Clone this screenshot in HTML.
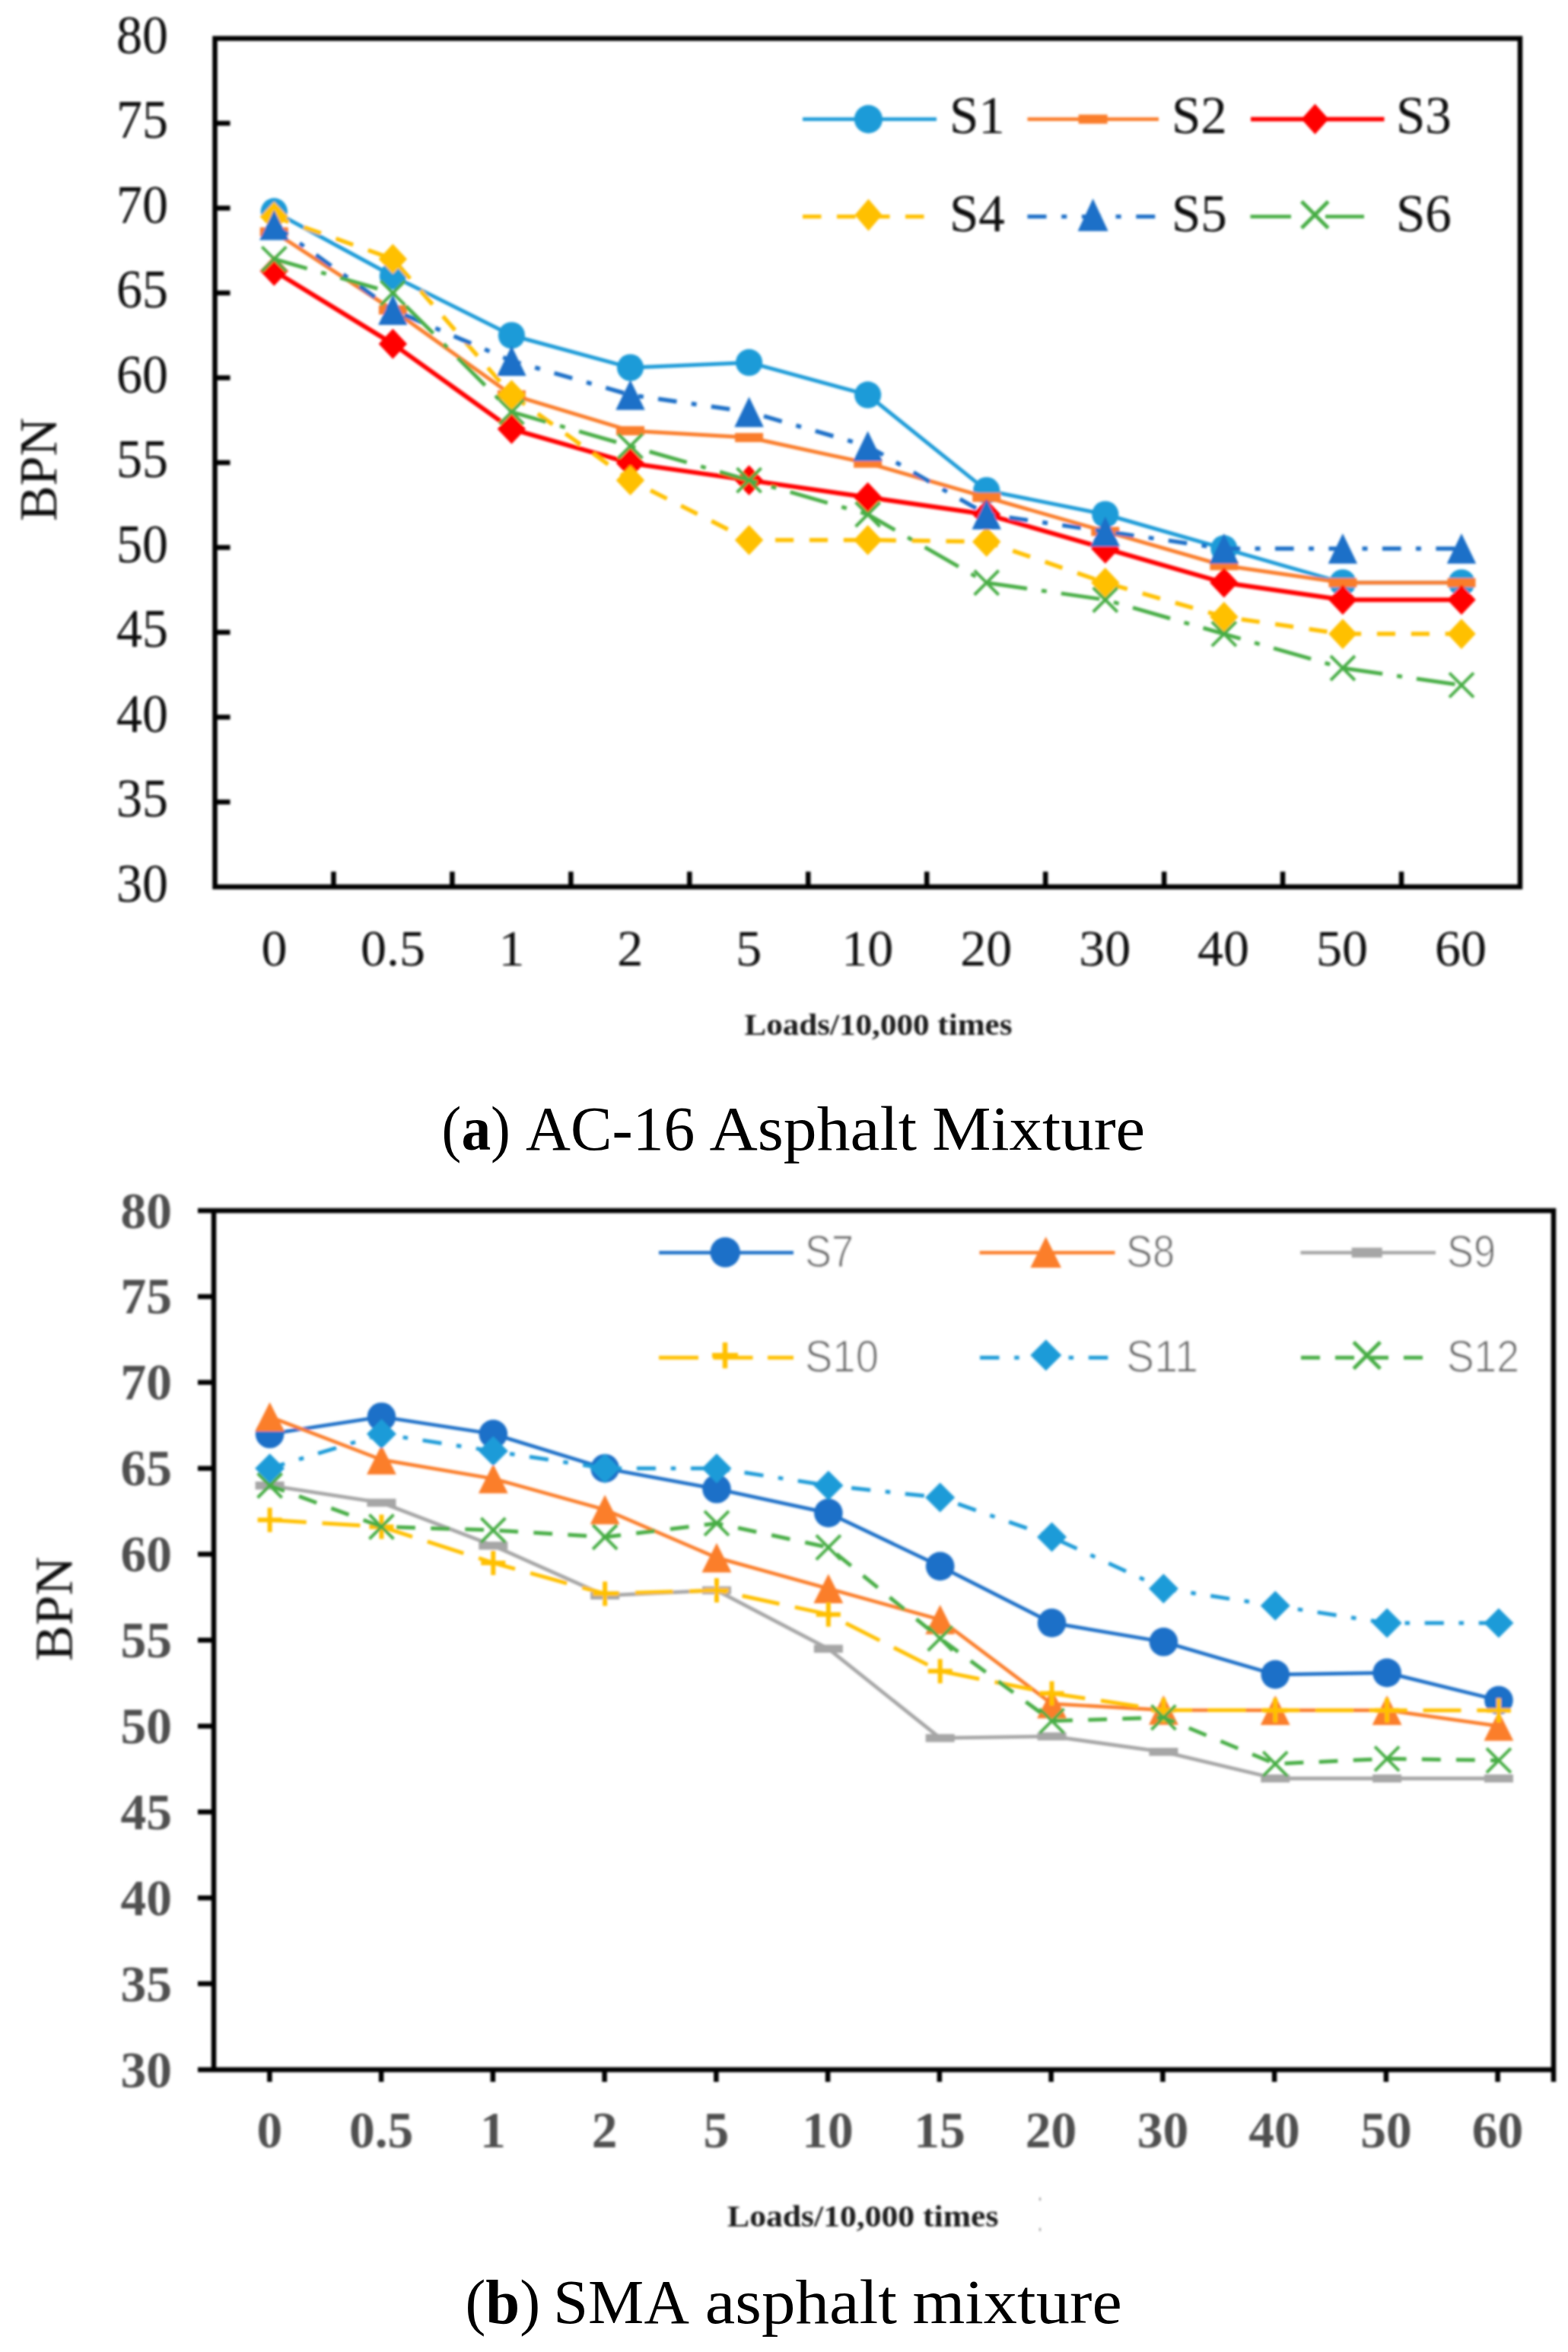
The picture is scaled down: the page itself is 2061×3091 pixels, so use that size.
<!DOCTYPE html>
<html lang="en"><head><meta charset="utf-8"><title>BPN vs loads</title>
<style>html,body{margin:0;padding:0;background:#fff}svg{display:block}.t1{font-family:"Liberation Serif","Times New Roman",serif;font-size:68px;fill:#080808}.t2{font-family:"Liberation Serif","Times New Roman",serif;font-size:67.5px;font-weight:bold;fill:#4f4f4f}.xl{font-family:"Liberation Serif","Times New Roman",serif;font-size:40px;font-weight:bold;fill:#1a1a1a}.cap{font-family:"Liberation Serif","Times New Roman",serif;font-size:83.5px;fill:#000}.lg1{font-family:"Liberation Serif","Times New Roman",serif;font-size:69px;fill:#080808}.lg2{font-family:"Liberation Sans",Arial,sans-serif;font-size:59px;fill:#666;stroke:#fff;stroke-width:1.1px;paint-order:fill stroke}</style></head><body>
<svg width="2061" height="3091" viewBox="0 0 2061 3091">
<defs><filter id="soft" x="0" y="0" width="2061" height="3091" filterUnits="userSpaceOnUse"><feGaussianBlur stdDeviation="1.5"/></filter></defs>
<rect width="2061" height="3091" fill="#fff"/>
<g id="chart-a" filter="url(#soft)">
<rect x="282.5" y="50.5" width="1715.5" height="1115" fill="none" stroke="#000" stroke-width="6.5"/>
<path d="M282.5 1054 h20 M282.5 942.5 h20 M282.5 831 h20 M282.5 719.5 h20 M282.5 608 h20 M282.5 496.5 h20 M282.5 385 h20 M282.5 273.5 h20 M282.5 162 h20 M438.45 1165.5 v-20 M594.41 1165.5 v-20 M750.36 1165.5 v-20 M906.32 1165.5 v-20 M1062.27 1165.5 v-20 M1218.23 1165.5 v-20 M1374.18 1165.5 v-20 M1530.14 1165.5 v-20 M1686.09 1165.5 v-20 M1842.05 1165.5 v-20" stroke="#000" stroke-width="6.5" fill="none"/>
<text class="t1" transform="translate(221 1184.5) scale(1 1.05)" text-anchor="end">30</text>
<text class="t1" transform="translate(221 1073) scale(1 1.05)" text-anchor="end">35</text>
<text class="t1" transform="translate(221 961.5) scale(1 1.05)" text-anchor="end">40</text>
<text class="t1" transform="translate(221 850) scale(1 1.05)" text-anchor="end">45</text>
<text class="t1" transform="translate(221 738.5) scale(1 1.05)" text-anchor="end">50</text>
<text class="t1" transform="translate(221 627) scale(1 1.05)" text-anchor="end">55</text>
<text class="t1" transform="translate(221 515.5) scale(1 1.05)" text-anchor="end">60</text>
<text class="t1" transform="translate(221 404) scale(1 1.05)" text-anchor="end">65</text>
<text class="t1" transform="translate(221 292.5) scale(1 1.05)" text-anchor="end">70</text>
<text class="t1" transform="translate(221 181) scale(1 1.05)" text-anchor="end">75</text>
<text class="t1" transform="translate(221 69.5) scale(1 1.05)" text-anchor="end">80</text>
<text class="t1" x="360.48" y="1269" text-anchor="middle">0</text>
<text class="t1" x="516.43" y="1269" text-anchor="middle">0.5</text>
<text class="t1" x="672.39" y="1269" text-anchor="middle">1</text>
<text class="t1" x="828.34" y="1269" text-anchor="middle">2</text>
<text class="t1" x="984.3" y="1269" text-anchor="middle">5</text>
<text class="t1" x="1140.25" y="1269" text-anchor="middle">10</text>
<text class="t1" x="1296.2" y="1269" text-anchor="middle">20</text>
<text class="t1" x="1452.16" y="1269" text-anchor="middle">30</text>
<text class="t1" x="1608.11" y="1269" text-anchor="middle">40</text>
<text class="t1" x="1764.07" y="1269" text-anchor="middle">50</text>
<text class="t1" x="1920.02" y="1269" text-anchor="middle">60</text>
<text class="t1" transform="translate(74 617) rotate(-90)" text-anchor="middle" style="font-size:70px">BPN</text>
<text class="xl" x="978.4" y="1359.7" textLength="352.1" lengthAdjust="spacingAndGlyphs">Loads/10,000 times</text>
<path d="M360.3 277.96 L516.37 362.7 L672.44 440.75 L828.51 483.12 L984.58 476.43 L1140.65 518.94 L1296.72 644.6 L1452.79 676.02 L1608.86 720.9 L1764.93 765.78 L1921 765.78" fill="none" stroke="#1e9bd8" stroke-width="5" stroke-linejoin="round"/>
<circle cx="360.3" cy="277.96" r="17.6" fill="#1e9bd8"/><circle cx="516.37" cy="362.7" r="17.6" fill="#1e9bd8"/><circle cx="672.44" cy="440.75" r="17.6" fill="#1e9bd8"/><circle cx="828.51" cy="483.12" r="17.6" fill="#1e9bd8"/><circle cx="984.58" cy="476.43" r="17.6" fill="#1e9bd8"/><circle cx="1140.65" cy="518.94" r="17.6" fill="#1e9bd8"/><circle cx="1296.72" cy="644.6" r="17.6" fill="#1e9bd8"/><circle cx="1452.79" cy="676.02" r="17.6" fill="#1e9bd8"/><circle cx="1608.86" cy="720.9" r="17.6" fill="#1e9bd8"/><circle cx="1764.93" cy="765.78" r="17.6" fill="#1e9bd8"/><circle cx="1921" cy="765.78" r="17.6" fill="#1e9bd8"/>
<path d="M360.3 304.72 L516.37 407.3 L672.44 518.94 L828.51 566.06 L984.58 575.04 L1140.65 608.7 L1296.72 653.58 L1452.79 698.46 L1608.86 743.34 L1764.93 765.78 L1921 765.78" fill="none" stroke="#fa7d2b" stroke-width="5" stroke-linejoin="round"/>
<rect x="341.8" y="298.72" width="37" height="12" fill="#fa7d2b"/><rect x="497.87" y="401.3" width="37" height="12" fill="#fa7d2b"/><rect x="653.94" y="512.94" width="37" height="12" fill="#fa7d2b"/><rect x="810.01" y="560.06" width="37" height="12" fill="#fa7d2b"/><rect x="966.08" y="569.04" width="37" height="12" fill="#fa7d2b"/><rect x="1122.15" y="602.7" width="37" height="12" fill="#fa7d2b"/><rect x="1278.22" y="647.58" width="37" height="12" fill="#fa7d2b"/><rect x="1434.29" y="692.46" width="37" height="12" fill="#fa7d2b"/><rect x="1590.36" y="737.34" width="37" height="12" fill="#fa7d2b"/><rect x="1746.43" y="759.78" width="37" height="12" fill="#fa7d2b"/><rect x="1902.5" y="759.78" width="37" height="12" fill="#fa7d2b"/>
<path d="M360.3 356.01 L516.37 451.9 L672.44 563.82 L828.51 608.7 L984.58 631.14 L1140.65 653.58 L1296.72 676.02 L1452.79 720.9 L1608.86 765.78 L1764.93 788.22 L1921 788.22" fill="none" stroke="#ff0000" stroke-width="6" stroke-linejoin="round"/>
<path transform="translate(360.3 356.01)" d="M0 -19.8 L18.7 0 L0 19.8 L-18.7 0Z" fill="#ff0000"/><path transform="translate(516.37 451.9)" d="M0 -19.8 L18.7 0 L0 19.8 L-18.7 0Z" fill="#ff0000"/><path transform="translate(672.44 563.82)" d="M0 -19.8 L18.7 0 L0 19.8 L-18.7 0Z" fill="#ff0000"/><path transform="translate(828.51 608.7)" d="M0 -19.8 L18.7 0 L0 19.8 L-18.7 0Z" fill="#ff0000"/><path transform="translate(984.58 631.14)" d="M0 -19.8 L18.7 0 L0 19.8 L-18.7 0Z" fill="#ff0000"/><path transform="translate(1140.65 653.58)" d="M0 -19.8 L18.7 0 L0 19.8 L-18.7 0Z" fill="#ff0000"/><path transform="translate(1296.72 676.02)" d="M0 -19.8 L18.7 0 L0 19.8 L-18.7 0Z" fill="#ff0000"/><path transform="translate(1452.79 720.9)" d="M0 -19.8 L18.7 0 L0 19.8 L-18.7 0Z" fill="#ff0000"/><path transform="translate(1608.86 765.78)" d="M0 -19.8 L18.7 0 L0 19.8 L-18.7 0Z" fill="#ff0000"/><path transform="translate(1764.93 788.22)" d="M0 -19.8 L18.7 0 L0 19.8 L-18.7 0Z" fill="#ff0000"/><path transform="translate(1921 788.22)" d="M0 -19.8 L18.7 0 L0 19.8 L-18.7 0Z" fill="#ff0000"/>
<path d="M360.3 284.65 L516.37 340.4 L672.44 518.94 L828.51 631.14 L984.58 709.68 L1140.65 709.68 L1296.72 711.92 L1452.79 765.78 L1608.86 810.66 L1764.93 833.1 L1921 833.1" fill="none" stroke="#ffc000" stroke-width="5.5" stroke-linejoin="round" stroke-dasharray="24.15 20.73" stroke-dashoffset="3.56"/>
<path transform="translate(360.3 284.65)" d="M0 -19.8 L18.7 0 L0 19.8 L-18.7 0Z" fill="#ffc000"/><path transform="translate(516.37 340.4)" d="M0 -19.8 L18.7 0 L0 19.8 L-18.7 0Z" fill="#ffc000"/><path transform="translate(672.44 518.94)" d="M0 -19.8 L18.7 0 L0 19.8 L-18.7 0Z" fill="#ffc000"/><path transform="translate(828.51 631.14)" d="M0 -19.8 L18.7 0 L0 19.8 L-18.7 0Z" fill="#ffc000"/><path transform="translate(984.58 709.68)" d="M0 -19.8 L18.7 0 L0 19.8 L-18.7 0Z" fill="#ffc000"/><path transform="translate(1140.65 709.68)" d="M0 -19.8 L18.7 0 L0 19.8 L-18.7 0Z" fill="#ffc000"/><path transform="translate(1296.72 711.92)" d="M0 -19.8 L18.7 0 L0 19.8 L-18.7 0Z" fill="#ffc000"/><path transform="translate(1452.79 765.78)" d="M0 -19.8 L18.7 0 L0 19.8 L-18.7 0Z" fill="#ffc000"/><path transform="translate(1608.86 810.66)" d="M0 -19.8 L18.7 0 L0 19.8 L-18.7 0Z" fill="#ffc000"/><path transform="translate(1764.93 833.1)" d="M0 -19.8 L18.7 0 L0 19.8 L-18.7 0Z" fill="#ffc000"/><path transform="translate(1921 833.1)" d="M0 -19.8 L18.7 0 L0 19.8 L-18.7 0Z" fill="#ffc000"/>
<path d="M360.3 295.8 L516.37 407.3 L672.44 474.2 L828.51 518.94 L984.58 541.38 L1140.65 586.26 L1296.72 676.02 L1452.79 698.46 L1608.86 720.9 L1764.93 720.9 L1921 720.9" fill="none" stroke="#1b70c8" stroke-width="5.5" stroke-linejoin="round" stroke-dasharray="24.68 19.44 6.91 19.44" stroke-dashoffset="2.86"/>
<path transform="translate(360.3 295.8)" d="M0 -19.8 L19.2 19.8 L-19.2 19.8Z" fill="#1b70c8"/><path transform="translate(516.37 407.3)" d="M0 -19.8 L19.2 19.8 L-19.2 19.8Z" fill="#1b70c8"/><path transform="translate(672.44 474.2)" d="M0 -19.8 L19.2 19.8 L-19.2 19.8Z" fill="#1b70c8"/><path transform="translate(828.51 518.94)" d="M0 -19.8 L19.2 19.8 L-19.2 19.8Z" fill="#1b70c8"/><path transform="translate(984.58 541.38)" d="M0 -19.8 L19.2 19.8 L-19.2 19.8Z" fill="#1b70c8"/><path transform="translate(1140.65 586.26)" d="M0 -19.8 L19.2 19.8 L-19.2 19.8Z" fill="#1b70c8"/><path transform="translate(1296.72 676.02)" d="M0 -19.8 L19.2 19.8 L-19.2 19.8Z" fill="#1b70c8"/><path transform="translate(1452.79 698.46)" d="M0 -19.8 L19.2 19.8 L-19.2 19.8Z" fill="#1b70c8"/><path transform="translate(1608.86 720.9)" d="M0 -19.8 L19.2 19.8 L-19.2 19.8Z" fill="#1b70c8"/><path transform="translate(1764.93 720.9)" d="M0 -19.8 L19.2 19.8 L-19.2 19.8Z" fill="#1b70c8"/><path transform="translate(1921 720.9)" d="M0 -19.8 L19.2 19.8 L-19.2 19.8Z" fill="#1b70c8"/>
<path d="M360.3 340.4 L516.37 385 L672.44 541.38 L828.51 586.26 L984.58 631.14 L1140.65 676.02 L1296.72 765.78 L1452.79 788.22 L1608.86 833.1 L1764.93 877.98 L1921 900.42" fill="none" stroke="#47ad45" stroke-width="5" stroke-linejoin="round" stroke-dasharray="51.09 19.16 6.88 19.16" stroke-dashoffset="5.97"/>
<path transform="translate(360.3 340.4)" d="M-16 -16 L16 16 M-16 16 L16 -16" stroke="#47ad45" stroke-width="4" fill="none"/><path transform="translate(516.37 385)" d="M-16 -16 L16 16 M-16 16 L16 -16" stroke="#47ad45" stroke-width="4" fill="none"/><path transform="translate(672.44 541.38)" d="M-16 -16 L16 16 M-16 16 L16 -16" stroke="#47ad45" stroke-width="4" fill="none"/><path transform="translate(828.51 586.26)" d="M-16 -16 L16 16 M-16 16 L16 -16" stroke="#47ad45" stroke-width="4" fill="none"/><path transform="translate(984.58 631.14)" d="M-16 -16 L16 16 M-16 16 L16 -16" stroke="#47ad45" stroke-width="4" fill="none"/><path transform="translate(1140.65 676.02)" d="M-16 -16 L16 16 M-16 16 L16 -16" stroke="#47ad45" stroke-width="4" fill="none"/><path transform="translate(1296.72 765.78)" d="M-16 -16 L16 16 M-16 16 L16 -16" stroke="#47ad45" stroke-width="4" fill="none"/><path transform="translate(1452.79 788.22)" d="M-16 -16 L16 16 M-16 16 L16 -16" stroke="#47ad45" stroke-width="4" fill="none"/><path transform="translate(1608.86 833.1)" d="M-16 -16 L16 16 M-16 16 L16 -16" stroke="#47ad45" stroke-width="4" fill="none"/><path transform="translate(1764.93 877.98)" d="M-16 -16 L16 16 M-16 16 L16 -16" stroke="#47ad45" stroke-width="4" fill="none"/><path transform="translate(1921 900.42)" d="M-16 -16 L16 16 M-16 16 L16 -16" stroke="#47ad45" stroke-width="4" fill="none"/>
<path d="M1055 156.6 L1231 156.6" fill="none" stroke="#1e9bd8" stroke-width="4.8"/>
<circle cx="1141.4" cy="156.6" r="18.6" fill="#1e9bd8"/>
<path d="M1350.5 156.6 L1523 156.6" fill="none" stroke="#fa7d2b" stroke-width="4.8"/>
<rect x="1417.6" y="150.6" width="38" height="12" fill="#fa7d2b"/>
<path d="M1644 156.6 L1819.5 156.6" fill="none" stroke="#ff0000" stroke-width="5.8"/>
<path transform="translate(1728.5 156.6)" d="M0 -20 L18 0 L0 20 L-18 0Z" fill="#ff0000"/>
<path d="M1055 284.6 L1216 284.6" fill="none" stroke="#ffc000" stroke-width="5.3" stroke-dasharray="24.5 20.5"/>
<path transform="translate(1141.5 282.4)" d="M0 -21 L18 0 L0 21 L-18 0Z" fill="#ffc000"/>
<path d="M1350.5 284.6 L1520 284.6" fill="none" stroke="#1b70c8" stroke-width="5.3" stroke-dasharray="25 19.7 7 19.7"/>
<path transform="translate(1436.6 282.4)" d="M0 -21.3 L20 21.3 L-20 21.3Z" fill="#1b70c8"/>
<path d="M1643.5 284.6 H1697 M1742 284.6 H1793" stroke="#47ad45" stroke-width="4.8" fill="none"/>
<path transform="translate(1728.3 282.2)" d="M-17.5 -17.5 L17.5 17.5 M-17.5 17.5 L17.5 -17.5" stroke="#47ad45" stroke-width="5" fill="none"/>
<text class="lg1" x="1248" y="174.5">S1</text>
<text class="lg1" x="1540" y="174.5">S2</text>
<text class="lg1" x="1835" y="174.5">S3</text>
<text class="lg1" x="1248" y="303.5">S4</text>
<text class="lg1" x="1540" y="303.5">S5</text>
<text class="lg1" x="1835" y="303.5">S6</text>
</g>
<text class="cap" x="580.6" y="1511" textLength="90.3" lengthAdjust="spacingAndGlyphs">(<tspan font-weight="bold">a</tspan>)</text>
<text class="cap" x="691.1" y="1511" textLength="222.3" lengthAdjust="spacingAndGlyphs">AC-16</text>
<text class="cap" x="932.4" y="1511" textLength="272.8" lengthAdjust="spacingAndGlyphs">Asphalt</text>
<text class="cap" x="1225.2" y="1511" textLength="280" lengthAdjust="spacingAndGlyphs">Mixture</text>
<g id="chart-b" filter="url(#soft)">
<path d="M260 1591 H2042 V2736 M260 2720 H2045.25 M281 1591 V2720" stroke="#000" stroke-width="6.5" fill="none"/>
<path d="M281 2607.1 h-21 M281 2494.2 h-21 M281 2381.3 h-21 M281 2268.4 h-21 M281 2155.5 h-21 M281 2042.6 h-21 M281 1929.7 h-21 M281 1816.8 h-21 M281 1703.9 h-21 M354.38 2720 v16 M501.12 2720 v16 M647.88 2720 v16 M794.62 2720 v16 M941.38 2720 v16 M1088.12 2720 v16 M1234.88 2720 v16 M1381.62 2720 v16 M1528.38 2720 v16 M1675.12 2720 v16 M1821.88 2720 v16 M1968.62 2720 v16" stroke="#000" stroke-width="6.5" fill="none"/>
<text class="t2" x="226" y="2742.5" text-anchor="end">30</text>
<text class="t2" x="226" y="2629.6" text-anchor="end">35</text>
<text class="t2" x="226" y="2516.7" text-anchor="end">40</text>
<text class="t2" x="226" y="2403.8" text-anchor="end">45</text>
<text class="t2" x="226" y="2290.9" text-anchor="end">50</text>
<text class="t2" x="226" y="2178" text-anchor="end">55</text>
<text class="t2" x="226" y="2065.1" text-anchor="end">60</text>
<text class="t2" x="226" y="1952.2" text-anchor="end">65</text>
<text class="t2" x="226" y="1839.3" text-anchor="end">70</text>
<text class="t2" x="226" y="1726.4" text-anchor="end">75</text>
<text class="t2" x="226" y="1613.5" text-anchor="end">80</text>
<text class="t2" x="354.38" y="2822" text-anchor="middle">0</text>
<text class="t2" x="501.12" y="2822" text-anchor="middle">0.5</text>
<text class="t2" x="647.88" y="2822" text-anchor="middle">1</text>
<text class="t2" x="794.62" y="2822" text-anchor="middle">2</text>
<text class="t2" x="941.38" y="2822" text-anchor="middle">5</text>
<text class="t2" x="1088.12" y="2822" text-anchor="middle">10</text>
<text class="t2" x="1234.88" y="2822" text-anchor="middle">15</text>
<text class="t2" x="1381.62" y="2822" text-anchor="middle">20</text>
<text class="t2" x="1528.38" y="2822" text-anchor="middle">30</text>
<text class="t2" x="1675.12" y="2822" text-anchor="middle">40</text>
<text class="t2" x="1821.88" y="2822" text-anchor="middle">50</text>
<text class="t2" x="1968.62" y="2822" text-anchor="middle">60</text>
<text class="t1" transform="translate(94.5 2114.5) rotate(-90)" text-anchor="middle" style="font-size:70.5px">BPN</text>
<text class="xl" x="956.1" y="2926.4" textLength="356.3" lengthAdjust="spacingAndGlyphs" style="font-size:41px">Loads/10,000 times</text>
<path d="M1367 2888 v4 M1367 2928 v4" stroke="#999" stroke-width="2" fill="none"/>
<path d="M354.6 1884.54 L501.45 1861.96 L648.3 1884.54 L795.15 1929.7 L942 1956.8 L1088.85 1988.41 L1235.7 2058.41 L1382.55 2132.92 L1529.4 2157.76 L1676.25 2200.66 L1823.1 2198.4 L1969.95 2234.53" fill="none" stroke="#1b70c8" stroke-width="4.7" stroke-linejoin="round"/>
<circle cx="354.6" cy="1884.54" r="18.8" fill="#1b70c8"/><circle cx="501.45" cy="1861.96" r="18.8" fill="#1b70c8"/><circle cx="648.3" cy="1884.54" r="18.8" fill="#1b70c8"/><circle cx="795.15" cy="1929.7" r="18.8" fill="#1b70c8"/><circle cx="942" cy="1956.8" r="18.8" fill="#1b70c8"/><circle cx="1088.85" cy="1988.41" r="18.8" fill="#1b70c8"/><circle cx="1235.7" cy="2058.41" r="18.8" fill="#1b70c8"/><circle cx="1382.55" cy="2132.92" r="18.8" fill="#1b70c8"/><circle cx="1529.4" cy="2157.76" r="18.8" fill="#1b70c8"/><circle cx="1676.25" cy="2200.66" r="18.8" fill="#1b70c8"/><circle cx="1823.1" cy="2198.4" r="18.8" fill="#1b70c8"/><circle cx="1969.95" cy="2234.53" r="18.8" fill="#1b70c8"/>
<path d="M354.6 1861.96 L501.45 1918.41 L648.3 1943.25 L795.15 1983.89 L942 2047.12 L1088.85 2087.76 L1235.7 2128.4 L1382.55 2239.05 L1529.4 2247.4 L1676.25 2247.63 L1823.1 2247.63 L1969.95 2268.4" fill="none" stroke="#fb7e2c" stroke-width="4.7" stroke-linejoin="round"/>
<path transform="translate(354.6 1861.96)" d="M0 -19.3 L19.4 19.3 L-19.4 19.3Z" fill="#fb7e2c"/><path transform="translate(501.45 1918.41)" d="M0 -19.3 L19.4 19.3 L-19.4 19.3Z" fill="#fb7e2c"/><path transform="translate(648.3 1943.25)" d="M0 -19.3 L19.4 19.3 L-19.4 19.3Z" fill="#fb7e2c"/><path transform="translate(795.15 1983.89)" d="M0 -19.3 L19.4 19.3 L-19.4 19.3Z" fill="#fb7e2c"/><path transform="translate(942 2047.12)" d="M0 -19.3 L19.4 19.3 L-19.4 19.3Z" fill="#fb7e2c"/><path transform="translate(1088.85 2087.76)" d="M0 -19.3 L19.4 19.3 L-19.4 19.3Z" fill="#fb7e2c"/><path transform="translate(1235.7 2128.4)" d="M0 -19.3 L19.4 19.3 L-19.4 19.3Z" fill="#fb7e2c"/><path transform="translate(1382.55 2239.05)" d="M0 -19.3 L19.4 19.3 L-19.4 19.3Z" fill="#fb7e2c"/><path transform="translate(1529.4 2247.4)" d="M0 -19.3 L19.4 19.3 L-19.4 19.3Z" fill="#fb7e2c"/><path transform="translate(1676.25 2247.63)" d="M0 -19.3 L19.4 19.3 L-19.4 19.3Z" fill="#fb7e2c"/><path transform="translate(1823.1 2247.63)" d="M0 -19.3 L19.4 19.3 L-19.4 19.3Z" fill="#fb7e2c"/><path transform="translate(1969.95 2268.4)" d="M0 -19.3 L19.4 19.3 L-19.4 19.3Z" fill="#fb7e2c"/>
<path d="M354.6 1952.28 L501.45 1974.86 L648.3 2031.31 L795.15 2096.79 L942 2090.02 L1088.85 2166.79 L1235.7 2284.21 L1382.55 2281.95 L1529.4 2302.27 L1676.25 2337.27 L1823.1 2337.27 L1969.95 2337.27" fill="none" stroke="#a6a6a6" stroke-width="4.8" stroke-linejoin="round"/>
<rect x="335.6" y="1947.03" width="38" height="10.5" fill="#a6a6a6"/><rect x="482.45" y="1969.61" width="38" height="10.5" fill="#a6a6a6"/><rect x="629.3" y="2026.06" width="38" height="10.5" fill="#a6a6a6"/><rect x="776.15" y="2091.54" width="38" height="10.5" fill="#a6a6a6"/><rect x="923" y="2084.77" width="38" height="10.5" fill="#a6a6a6"/><rect x="1069.85" y="2161.54" width="38" height="10.5" fill="#a6a6a6"/><rect x="1216.7" y="2278.96" width="38" height="10.5" fill="#a6a6a6"/><rect x="1363.55" y="2276.7" width="38" height="10.5" fill="#a6a6a6"/><rect x="1510.4" y="2297.02" width="38" height="10.5" fill="#a6a6a6"/><rect x="1657.25" y="2332.02" width="38" height="10.5" fill="#a6a6a6"/><rect x="1804.1" y="2332.02" width="38" height="10.5" fill="#a6a6a6"/><rect x="1950.95" y="2332.02" width="38" height="10.5" fill="#a6a6a6"/>
<path d="M354.6 1997.44 L501.45 2006.47 L648.3 2053.89 L795.15 2094.53 L942 2090.02 L1088.85 2121.63 L1235.7 2196.14 L1382.55 2225.5 L1529.4 2247.4 L1676.25 2247.63 L1823.1 2247.63 L1969.95 2247.63" fill="none" stroke="#ffc000" stroke-width="5" stroke-linejoin="round" stroke-dasharray="49.97 20.79" stroke-dashoffset="1.73"/>
<path transform="translate(354.6 1997.44)" d="M-16 0 L16 0 M0 -16 L0 16" stroke="#ffc000" stroke-width="6" fill="none"/><path transform="translate(501.45 2006.47)" d="M-16 0 L16 0 M0 -16 L0 16" stroke="#ffc000" stroke-width="6" fill="none"/><path transform="translate(648.3 2053.89)" d="M-16 0 L16 0 M0 -16 L0 16" stroke="#ffc000" stroke-width="6" fill="none"/><path transform="translate(795.15 2094.53)" d="M-16 0 L16 0 M0 -16 L0 16" stroke="#ffc000" stroke-width="6" fill="none"/><path transform="translate(942 2090.02)" d="M-16 0 L16 0 M0 -16 L0 16" stroke="#ffc000" stroke-width="6" fill="none"/><path transform="translate(1088.85 2121.63)" d="M-16 0 L16 0 M0 -16 L0 16" stroke="#ffc000" stroke-width="6" fill="none"/><path transform="translate(1235.7 2196.14)" d="M-16 0 L16 0 M0 -16 L0 16" stroke="#ffc000" stroke-width="6" fill="none"/><path transform="translate(1382.55 2225.5)" d="M-16 0 L16 0 M0 -16 L0 16" stroke="#ffc000" stroke-width="6" fill="none"/><path transform="translate(1529.4 2247.4)" d="M-16 0 L16 0 M0 -16 L0 16" stroke="#ffc000" stroke-width="6" fill="none"/><path transform="translate(1676.25 2247.63)" d="M-16 0 L16 0 M0 -16 L0 16" stroke="#ffc000" stroke-width="6" fill="none"/><path transform="translate(1823.1 2247.63)" d="M-16 0 L16 0 M0 -16 L0 16" stroke="#ffc000" stroke-width="6" fill="none"/><path transform="translate(1969.95 2247.63)" d="M-16 0 L16 0 M0 -16 L0 16" stroke="#ffc000" stroke-width="6" fill="none"/>
<path d="M354.6 1929.7 L501.45 1884.54 L648.3 1907.12 L795.15 1929.7 L942 1929.7 L1088.85 1952.28 L1235.7 1968.09 L1382.55 2020.02 L1529.4 2087.76 L1676.25 2110.34 L1823.1 2132.92 L1969.95 2132.92" fill="none" stroke="#1e9bd8" stroke-width="5" stroke-linejoin="round" stroke-dasharray="25.19 19.65 6.55 19.65" stroke-dashoffset="4.76"/>
<path transform="translate(354.6 1929.7)" d="M0 -19.5 L19.5 0 L0 19.5 L-19.5 0Z" fill="#1e9bd8"/><path transform="translate(501.45 1884.54)" d="M0 -19.5 L19.5 0 L0 19.5 L-19.5 0Z" fill="#1e9bd8"/><path transform="translate(648.3 1907.12)" d="M0 -19.5 L19.5 0 L0 19.5 L-19.5 0Z" fill="#1e9bd8"/><path transform="translate(795.15 1929.7)" d="M0 -19.5 L19.5 0 L0 19.5 L-19.5 0Z" fill="#1e9bd8"/><path transform="translate(942 1929.7)" d="M0 -19.5 L19.5 0 L0 19.5 L-19.5 0Z" fill="#1e9bd8"/><path transform="translate(1088.85 1952.28)" d="M0 -19.5 L19.5 0 L0 19.5 L-19.5 0Z" fill="#1e9bd8"/><path transform="translate(1235.7 1968.09)" d="M0 -19.5 L19.5 0 L0 19.5 L-19.5 0Z" fill="#1e9bd8"/><path transform="translate(1382.55 2020.02)" d="M0 -19.5 L19.5 0 L0 19.5 L-19.5 0Z" fill="#1e9bd8"/><path transform="translate(1529.4 2087.76)" d="M0 -19.5 L19.5 0 L0 19.5 L-19.5 0Z" fill="#1e9bd8"/><path transform="translate(1676.25 2110.34)" d="M0 -19.5 L19.5 0 L0 19.5 L-19.5 0Z" fill="#1e9bd8"/><path transform="translate(1823.1 2132.92)" d="M0 -19.5 L19.5 0 L0 19.5 L-19.5 0Z" fill="#1e9bd8"/><path transform="translate(1969.95 2132.92)" d="M0 -19.5 L19.5 0 L0 19.5 L-19.5 0Z" fill="#1e9bd8"/>
<path d="M354.6 1952.28 L501.45 2006.47 L648.3 2010.99 L795.15 2020.02 L942 2001.96 L1088.85 2033.57 L1235.7 2153.24 L1382.55 2261.63 L1529.4 2257.11 L1676.25 2318.08 L1823.1 2311.3 L1969.95 2313.56" fill="none" stroke="#47ad45" stroke-width="5" stroke-linejoin="round" stroke-dasharray="24.78 20.32" stroke-dashoffset="4.18"/>
<path transform="translate(354.6 1952.28)" d="M-16 -16 L16 16 M-16 16 L16 -16" stroke="#47ad45" stroke-width="4" fill="none"/><path transform="translate(501.45 2006.47)" d="M-16 -16 L16 16 M-16 16 L16 -16" stroke="#47ad45" stroke-width="4" fill="none"/><path transform="translate(648.3 2010.99)" d="M-16 -16 L16 16 M-16 16 L16 -16" stroke="#47ad45" stroke-width="4" fill="none"/><path transform="translate(795.15 2020.02)" d="M-16 -16 L16 16 M-16 16 L16 -16" stroke="#47ad45" stroke-width="4" fill="none"/><path transform="translate(942 2001.96)" d="M-16 -16 L16 16 M-16 16 L16 -16" stroke="#47ad45" stroke-width="4" fill="none"/><path transform="translate(1088.85 2033.57)" d="M-16 -16 L16 16 M-16 16 L16 -16" stroke="#47ad45" stroke-width="4" fill="none"/><path transform="translate(1235.7 2153.24)" d="M-16 -16 L16 16 M-16 16 L16 -16" stroke="#47ad45" stroke-width="4" fill="none"/><path transform="translate(1382.55 2261.63)" d="M-16 -16 L16 16 M-16 16 L16 -16" stroke="#47ad45" stroke-width="4" fill="none"/><path transform="translate(1529.4 2257.11)" d="M-16 -16 L16 16 M-16 16 L16 -16" stroke="#47ad45" stroke-width="4" fill="none"/><path transform="translate(1676.25 2318.08)" d="M-16 -16 L16 16 M-16 16 L16 -16" stroke="#47ad45" stroke-width="4" fill="none"/><path transform="translate(1823.1 2311.3)" d="M-16 -16 L16 16 M-16 16 L16 -16" stroke="#47ad45" stroke-width="4" fill="none"/><path transform="translate(1969.95 2313.56)" d="M-16 -16 L16 16 M-16 16 L16 -16" stroke="#47ad45" stroke-width="4" fill="none"/>
<path d="M866 1646.2 L1043 1646.2" fill="none" stroke="#1b70c8" stroke-width="4.5"/>
<circle cx="953.2" cy="1645.7" r="19.7" fill="#1b70c8"/>
<path d="M1287.5 1646.2 L1465.5 1646.2" fill="none" stroke="#fb7e2c" stroke-width="4.5"/>
<path transform="translate(1374.7 1645.6)" d="M0 -20.3 L20.3 20.3 L-20.3 20.3Z" fill="#fb7e2c"/>
<path d="M1709.5 1646.2 L1887 1646.2" fill="none" stroke="#a6a6a6" stroke-width="4.5"/>
<rect x="1776.7" y="1639.7" width="40" height="13" fill="#a6a6a6"/>
<path d="M866 1784.3 L1043 1784.3" fill="none" stroke="#ffc000" stroke-width="5" stroke-dasharray="52 19.5"/>
<path transform="translate(953 1781.3)" d="M-17 0 L17 0 M0 -17 L0 17" stroke="#ffc000" stroke-width="6.5" fill="none"/>
<path d="M1288 1784.3 L1457 1784.3" fill="none" stroke="#1e9bd8" stroke-width="5" stroke-dasharray="25.5 19.7 6.5 19.7"/>
<path transform="translate(1374.8 1781)" d="M0 -20.5 L20.5 0 L0 20.5 L-20.5 0Z" fill="#1e9bd8"/>
<path d="M1710 1784.3 L1871 1784.3" fill="none" stroke="#47ad45" stroke-width="5" stroke-dasharray="25 20"/>
<path transform="translate(1796.7 1781.3)" d="M-17.5 -17.5 L17.5 17.5 M-17.5 17.5 L17.5 -17.5" stroke="#47ad45" stroke-width="5" fill="none"/>
<text class="lg2" x="1058" y="1665" textLength="64" lengthAdjust="spacingAndGlyphs">S7</text>
<text class="lg2" x="1480" y="1665" textLength="64" lengthAdjust="spacingAndGlyphs">S8</text>
<text class="lg2" x="1902" y="1665" textLength="64" lengthAdjust="spacingAndGlyphs">S9</text>
<text class="lg2" x="1058" y="1802.5" textLength="97" lengthAdjust="spacingAndGlyphs">S10</text>
<text class="lg2" x="1480" y="1802.5" textLength="95" lengthAdjust="spacingAndGlyphs">S11</text>
<text class="lg2" x="1902" y="1802.5" textLength="95" lengthAdjust="spacingAndGlyphs">S12</text>
</g>
<text class="cap" x="611.4" y="3052.5" textLength="98.8" lengthAdjust="spacingAndGlyphs">(<tspan font-weight="bold">b</tspan>)</text>
<text class="cap" x="727.3" y="3052.5" textLength="178.6" lengthAdjust="spacingAndGlyphs">SMA</text>
<text class="cap" x="926.8" y="3052.5" textLength="252.3" lengthAdjust="spacingAndGlyphs">asphalt</text>
<text class="cap" x="1199.4" y="3052.5" textLength="275.3" lengthAdjust="spacingAndGlyphs">mixture</text>
</svg></body></html>
